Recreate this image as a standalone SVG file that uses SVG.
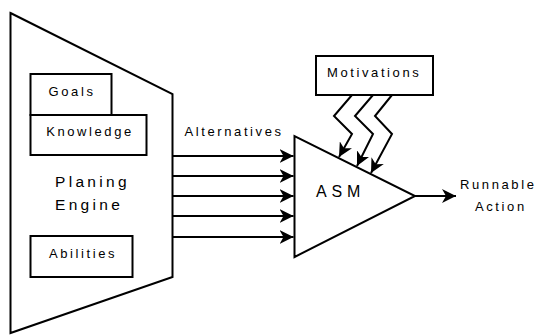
<svg xmlns="http://www.w3.org/2000/svg" width="539" height="336" viewBox="0 0 539 336">
<defs>
<marker id="ah" viewBox="0 0 14 14" refX="14" refY="7" markerWidth="14" markerHeight="14" markerUnits="userSpaceOnUse" orient="auto">
<path d="M0,0 L14,7 L0,14 L4,7 Z" fill="#000"/>
</marker>
</defs>
<style>
.s{fill:#fff;stroke:#000;stroke-width:2}
.c{fill:none;stroke:#000;stroke-width:2;marker-end:url(#ah)}
text{font-family:"Liberation Sans",Arial,sans-serif;fill:#000}
.sm{font-size:13px;letter-spacing:2.6px}
.lg{font-size:15.5px;letter-spacing:3.3px}
</style>
<rect width="539" height="336" fill="#fff"/>
<g id="engine">
<polygon class="s" points="10.5,13 172.5,94 172.5,277 10.5,333"/>
<text class="lg" x="55" y="187">Planing</text>
<text class="lg" x="55" y="210">Engine</text>
</g>
<g id="goals">
<rect class="s" x="30.5" y="74" width="81" height="41"/>
<text class="sm" x="72" y="96" text-anchor="middle">Goals</text>
</g>
<g id="knowledge">
<rect class="s" x="30.5" y="115" width="116" height="40"/>
<text class="sm" x="90" y="136" text-anchor="middle">Knowledge</text>
</g>
<g id="abilities">
<rect class="s" x="30.5" y="236" width="102" height="41"/>
<text class="sm" x="83" y="258" text-anchor="middle">Abilities</text>
</g>
<g id="asm">
<polygon class="s" points="294.5,136 294.5,257 415,196"/>
<text class="lg" x="316" y="197" style="font-size:16px;letter-spacing:4.8px">ASM</text>
</g>
<g id="motivations">
<rect class="s" x="316" y="56" width="117" height="39"/>
<text class="sm" x="327" y="77">Motivations</text>
</g>
<g id="labels">
<text class="sm" x="184.5" y="136">Alternatives</text>
<text class="sm" x="460" y="189">Runnable</text>
<text class="sm" x="475" y="211">Action</text>
</g>
<g id="connectors">
<line class="c" x1="172.5" y1="156" x2="293.5" y2="156"/>
<line class="c" x1="172.5" y1="176" x2="293.5" y2="176"/>
<line class="c" x1="172.5" y1="196" x2="293.5" y2="196"/>
<line class="c" x1="172.5" y1="216" x2="293.5" y2="216"/>
<line class="c" x1="172.5" y1="237" x2="293.5" y2="237"/>
<line class="c" x1="415" y1="196" x2="456" y2="196"/>
<polyline class="c" points="352,95 334,116 352,134 339,157"/>
<polyline class="c" points="373,95 355,116 373,134 357,166"/>
<polyline class="c" points="392,95 375,116 392,134 371,173"/>
</g>
</svg>
